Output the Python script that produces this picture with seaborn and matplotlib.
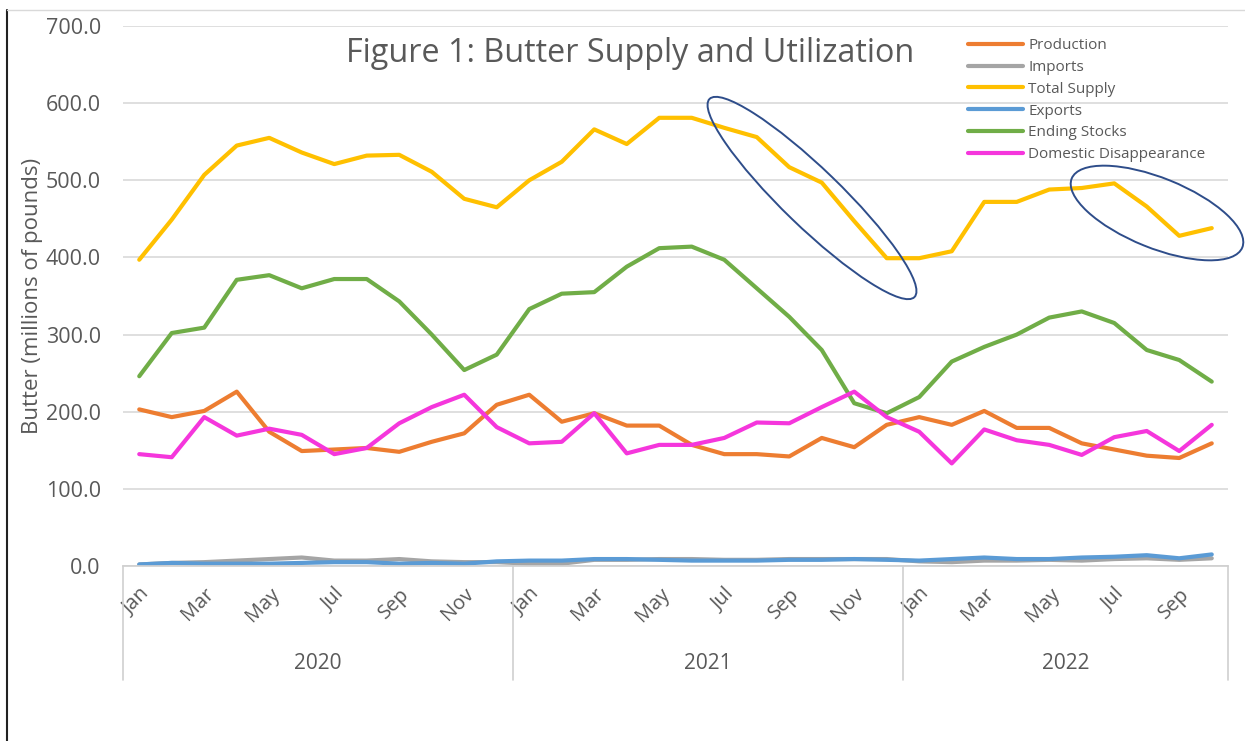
import numpy as np
import pandas as pd
import matplotlib
matplotlib.use("Agg")
import matplotlib.pyplot as plt
import seaborn as sns
from matplotlib.patches import Ellipse
from matplotlib.lines import Line2D
from matplotlib.transforms import IdentityTransform, blended_transform_factory

months = ["Jan", "Feb", "Mar", "Apr", "May", "Jun", "Jul", "Aug", "Sep", "Oct", "Nov", "Dec"] * 2 + \
         ["Jan", "Feb", "Mar", "Apr", "May", "Jun", "Jul", "Aug", "Sep", "Oct"]
years = ["2020", "2021", "2022"]

production = [203, 193, 201, 226, 174, 149, 151, 153, 148, 161, 172, 209,
              222, 187, 198, 182, 182, 157, 145, 145, 142, 166, 154, 183,
              193, 183, 201, 179, 179, 159, 151, 143, 140, 159]
imports = [2, 4, 5, 7, 9, 11, 7, 7, 9, 6, 5, 5,
           3, 3, 8, 8, 9, 9, 8, 8, 9, 9, 9, 9,
           6, 5, 7, 7, 8, 7, 9, 10, 8, 10]
total_supply = [397, 449, 507, 545, 555, 536, 521, 532, 533, 511, 476, 465,
                500, 524, 566, 547, 581, 581, 568, 556, 517, 497, 447, 399,
                399, 408, 472, 472, 488, 490, 496, 466, 428, 438]
exports = [2, 4, 3, 3, 3, 4, 5, 5, 3, 4, 3, 6,
           7, 7, 9, 9, 8, 7, 7, 7, 8, 8, 9, 8,
           7, 9, 11, 9, 9, 11, 12, 14, 10, 15]
ending_stocks = [246, 302, 309, 371, 377, 360, 372, 372, 343, 300, 254, 274,
                 333, 353, 355, 388, 412, 414, 397, 360, 323, 280, 211, 198,
                 219, 265, 284, 300, 322, 330, 315, 280, 267, 239]
domestic = [145, 141, 193, 169, 178, 170, 145, 153, 185, 206, 222, 180,
            159, 161, 198, 146, 157, 157, 166, 186, 185, 206, 226, 193,
            174, 133, 177, 163, 157, 144, 167, 175, 149, 183]

series_names = ["Production", "Imports", "Total Supply", "Exports", "Ending Stocks", "Domestic Disappearance"]
series_vals = [production, imports, total_supply, exports, ending_stocks, domestic]
colors = ["#ED7D31", "#A5A5A5", "#FFC000", "#5B9BD5", "#70AD47", "#F536DC"]

rows = []
for name, vals in zip(series_names, series_vals):
    for i, v in enumerate(vals):
        rows.append({"idx": i, "value": v, "series": name})
df = pd.DataFrame(rows)

sns.set_theme(style="white")
plt.rcParams["font.family"] = ["Open Sans", "DejaVu Sans"]
txt = "#595959"

W, H = 1245, 741
fig = plt.figure(figsize=(W / 100, H / 100), dpi=100)
ax = fig.add_axes([123 / W, 1 - 566 / H, (1228 - 123) / W, (566 - 26) / H])

sns.lineplot(data=df, x="idx", y="value", hue="series", hue_order=series_names,
             palette=dict(zip(series_names, colors)), linewidth=3, ax=ax, legend=False)

ax.set_xlim(-0.5, len(months) - 0.5)
ax.set_ylim(0, 700)
ax.set_yticks(np.arange(0, 701, 100))
ax.set_yticklabels([f"{v:.1f}" for v in np.arange(0, 701, 100)], fontsize=15.5, color=txt)
ax.yaxis.grid(True, color="#D9D9D9", linewidth=1.2)
ax.xaxis.grid(False)
for s in ["left", "right", "top"]:
    ax.spines[s].set_visible(False)
ax.spines["bottom"].set_color("#D0D0D0")
ax.tick_params(axis="y", length=0, pad=16)
ax.tick_params(axis="x", length=0, pad=13)
tick_idx = list(range(0, len(months), 2))
ax.set_xticks(tick_idx)
ax.set_xticklabels([months[i] for i in tick_idx], rotation=45, ha="right",
                   rotation_mode="anchor", fontsize=14.5, color=txt)
ax.set_xlabel("")
ax.set_ylabel("Butter (millions of pounds)", fontsize=16, color=txt, labelpad=2)

# year group dividers and labels
trans = blended_transform_factory(ax.transData, ax.transAxes)
bounds = [-0.5, 11.5, 23.5, len(months) - 0.5]
for b in bounds:
    ax.add_line(Line2D([b, b], [0, -0.211], transform=trans, color="#D0D0D0",
                       linewidth=1.2, clip_on=False))
for k, y in enumerate(years):
    ax.text((bounds[k] + bounds[k + 1]) / 2, -0.181, y, transform=trans,
            ha="center", va="center", fontsize=15, color=txt)

# legend
handles = [Line2D([0], [0], color=c, linewidth=3) for c in colors]
fig.legend(handles, series_names, loc="upper left",
           bbox_to_anchor=(968 / W, 1 - 38 / H), frameon=False, fontsize=11,
           handlelength=3.6, handletextpad=0.35, labelspacing=0.45, labelcolor=txt,
           borderaxespad=0, borderpad=0)

# title
fig.text(630 / W, 1 - 54 / H, "Figure 1: Butter Supply and Utilization",
         ha="center", va="center", fontsize=23.3, color=txt)

# annotation ellipses (display coords)
fig.patches.append(Ellipse((812, H - 198), 285, 58, angle=-44, fill=False,
                           edgecolor="#2E4D8A", linewidth=1.4, transform=IdentityTransform()))
fig.patches.append(Ellipse((1157, H - 213), 184, 70, angle=-22, fill=False,
                           edgecolor="#2E4D8A", linewidth=1.4, transform=IdentityTransform()))

# screenshot frame lines
fig.add_artist(Line2D([7 / W, 7 / W], [0, 1 - 10 / H], transform=fig.transFigure,
                      color="#222222", linewidth=1.5))
fig.add_artist(Line2D([7 / W, 1], [1 - 10 / H, 1 - 10 / H], transform=fig.transFigure,
                      color="#D9D9D9", linewidth=1))

fig.savefig("out.png", dpi=100)
